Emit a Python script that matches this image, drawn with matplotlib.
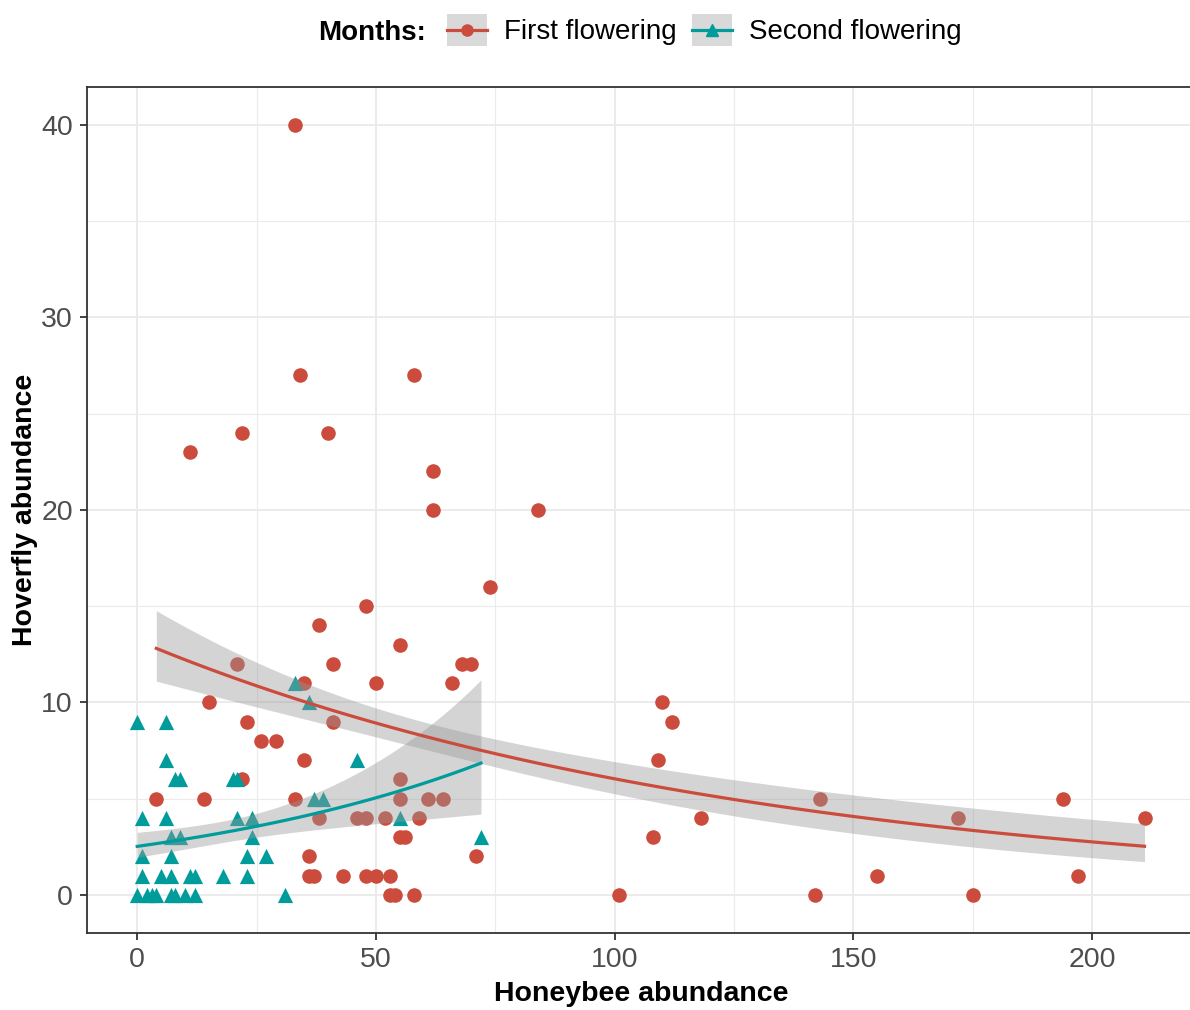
import numpy as np
import matplotlib
matplotlib.use("Agg")
import matplotlib.pyplot as plt
from matplotlib.lines import Line2D
from matplotlib.patches import Patch
from matplotlib.legend_handler import HandlerTuple, HandlerLine2D

plt.rcParams['font.family'] = ['Liberation Sans', 'DejaVu Sans']

# First flowering (red circles)
first_bee = [33, 11, 22, 34, 40, 58, 62, 62, 84, 74, 48, 38, 55, 41, 21, 68, 70, 66,
             50, 35, 15, 110, 112, 23, 41, 26, 29, 35, 109, 22, 55, 4, 14, 33, 55, 61,
             64, 38, 46, 48, 52, 59, 118, 143, 172, 194, 211, 55, 56, 108, 71, 36, 36,
             37, 43, 48, 50, 53, 155, 197, 53, 54, 58, 101, 142, 175]
first_hov = [40, 23, 24, 27, 24, 27, 22, 20, 20, 16, 15, 14, 13, 12, 12, 12, 12, 11,
             11, 11, 10, 10, 9, 9, 9, 8, 8, 7, 7, 6, 6, 5, 5, 5, 5, 5,
             5, 4, 4, 4, 4, 4, 4, 5, 4, 5, 4, 3, 3, 3, 2, 2, 1,
             1, 1, 1, 1, 1, 1, 1, 0, 0, 0, 0, 0, 0]

# Second flowering (teal triangles)
second_bee = [0, 6, 6, 8, 9, 20, 21, 1, 6, 21, 24, 7, 9, 24, 1, 7, 23, 27, 1, 5, 7,
              11, 12, 18, 23, 0, 2, 3, 4, 7, 8, 10, 12, 31, 72, 46, 33, 36, 37, 39, 55]
second_hov = [9, 9, 7, 6, 6, 6, 6, 4, 4, 4, 4, 3, 3, 3, 2, 2, 2, 2, 1, 1, 1,
              1, 1, 1, 1, 0, 0, 0, 0, 0, 0, 0, 0, 0, 3, 7, 11, 10, 5, 5, 4]

RED = "#CB4B3C"
TEAL = "#009B9B"


def poisson_fit(x, y, xs):
    # Poisson GLM (log link) by IRLS, 95% band on link scale
    x = np.asarray(x, float)
    y = np.asarray(y, float)
    X = np.column_stack([np.ones_like(x), x])
    b = np.array([np.log(y.mean() + 0.1), 0.0])
    for _ in range(50):
        eta = X @ b
        mu = np.exp(eta)
        z = eta + (y - mu) / mu
        XtW = X.T * mu
        b = np.linalg.solve(XtW @ X, XtW @ z)
    mu = np.exp(X @ b)
    cov = np.linalg.inv((X.T * mu) @ X)
    Xs = np.column_stack([np.ones_like(xs), xs])
    eta_s = Xs @ b
    se = np.sqrt(np.einsum('ij,jk,ik->i', Xs, cov, Xs))
    return np.exp(eta_s), np.exp(eta_s - 1.96 * se), np.exp(eta_s + 1.96 * se)


class CenteredLine(HandlerLine2D):
    # put the key line in the middle of the grey key box
    def create_artists(self, legend, orig_handle, xdescent, ydescent,
                       width, height, fontsize, trans):
        arts = super().create_artists(legend, orig_handle, xdescent, ydescent,
                                      width, height, fontsize, trans)
        for a in arts:
            a.set_ydata(np.full_like(np.asarray(a.get_ydata(), float),
                                     height / 2 - ydescent))
        return arts


fig = plt.figure(figsize=(11.9, 10.1), dpi=100)
ax = fig.add_axes([0.0730, 0.0760, 0.9311, 0.8383])

ax.scatter(first_bee, first_hov, s=110, marker='o', color=RED, linewidths=0, zorder=3)
ax.scatter(second_bee, second_hov, s=120, marker='^', color=TEAL, linewidths=0, zorder=3)

for bx, hy, col in [(first_bee, first_hov, RED), (second_bee, second_hov, TEAL)]:
    xs = np.linspace(min(bx), max(bx), 80)
    fit, lo, hi = poisson_fit(bx, hy, xs)
    ax.fill_between(xs, lo, hi, color="#999999", alpha=0.42, linewidth=0, zorder=4)
    ax.plot(xs, fit, color=col, linewidth=2.3, zorder=5)

ax.set_xlim(-10.55, 221.55)
ax.set_ylim(-2, 42)
ax.set_xticks([0, 50, 100, 150, 200])
ax.set_yticks([0, 10, 20, 30, 40])
ax.set_xticks([25, 75, 125, 175], minor=True)
ax.set_yticks([5, 15, 25, 35], minor=True)
ax.grid(True, which='major', color='#EBEBEB', linewidth=1.4, zorder=0)
ax.grid(True, which='minor', color='#EBEBEB', linewidth=0.8, zorder=0)
ax.set_axisbelow(True)
ax.tick_params(which='major', length=5, width=1.3, color='#333333',
               labelsize=20.5, labelcolor='#4D4D4D', pad=5)
ax.tick_params(which='minor', length=0)
for sp in ax.spines.values():
    sp.set_color('#333333')
    sp.set_linewidth(1.3)

ax.set_xlabel("Honeybee abundance", fontsize=20.5, fontweight='bold', labelpad=6)
ax.set_ylabel("Hoverfly abundance", fontsize=20.5, fontweight='bold', labelpad=2)

# legend on top
h1 = (Patch(facecolor='#D9D9D9', edgecolor='none'),
      Line2D([], [], color=RED, marker='o', markersize=8, linewidth=2.3))
h2 = (Patch(facecolor='#D9D9D9', edgecolor='none'),
      Line2D([], [], color=TEAL, marker='^', markersize=8, linewidth=2.3))
fig.text(0.267, 0.9705, "Months:", fontsize=20, fontweight='bold', va='center_baseline', ha='left')
fig.legend([h1, h2], ["First flowering", "Second flowering"],
           handler_map={tuple: HandlerTuple(ndivide=1, pad=0), Line2D: CenteredLine()},
           loc='center left', bbox_to_anchor=(0.376, 0.9705), ncol=2, frameon=False,
           fontsize=20, handlelength=1.44, handleheight=1.37, handletextpad=0.6,
           columnspacing=0.55, borderaxespad=0, borderpad=0)

fig.savefig("out.png", dpi=100)
